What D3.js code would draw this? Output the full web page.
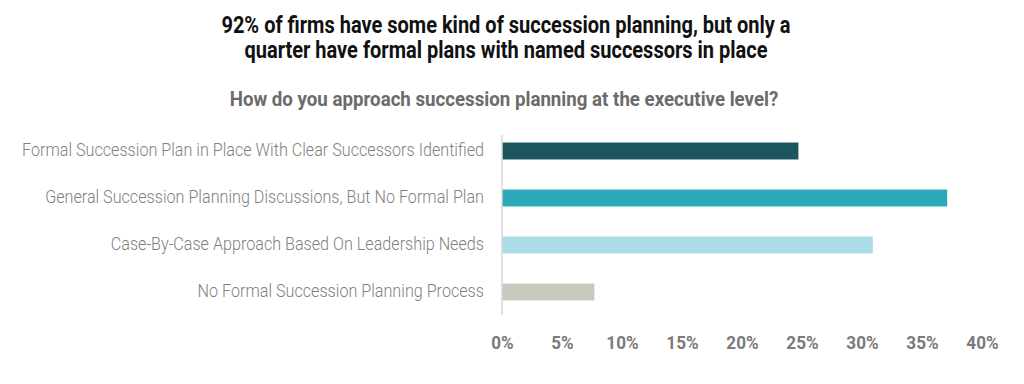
<!DOCTYPE html>
<html>
<head>
<meta charset="utf-8">
<script src="https://cdn.jsdelivr.net/npm/d3@7"></script>
<style>
  html, body { margin: 0; padding: 0; background: #fff; }
  svg { display: block; }
</style>
</head>
<body>
<svg id="chart" width="1024" height="384"></svg>
<script>
var width = 1024;
var height = 384;

var titleLines = [
  "92% of firms have some kind of succession planning, but only a",
  "quarter have formal plans with named successors in place"
];
var subtitle = "How do you approach succession planning at the executive level?";

var categories = [
  "Formal Succession Plan in Place With Clear Successors Identified",
  "General Succession Planning Discussions, But No Formal Plan",
  "Case-By-Case Approach Based On Leadership Needs",
  "No Formal Succession Planning Process"
];
var values = [24.7, 37.1, 30.9, 7.7];
var colors = ["#1b555d", "#2aaab8", "#abdce6", "#c7c9bf"];
var tickValues = [0, 5, 10, 15, 20, 25, 30, 35, 40];

var svg = d3.select("#chart");

var x = d3.scaleLinear()
    .domain([0, 40])
    .range([502, 982]);

var y = d3.scaleBand()
    .domain(categories)
    .range([127.5, 315.5])
    .paddingInner(0.64)
    .paddingOuter(0.32);

// squeeze text horizontally to fake a condensed face
function condense(sel, k) {
  sel.each(function () {
    var w = this.getComputedTextLength();
    d3.select(this)
      .attr("textLength", w * k)
      .attr("lengthAdjust", "spacingAndGlyphs");
  });
}

// title
svg.selectAll("text.title")
  .data(titleLines)
  .enter().append("text")
  .attr("class", "title")
  .attr("x", 506)
  .attr("y", (d, i) => 33 + i * 25)
  .attr("text-anchor", "middle")
  .style("font-family", "Roboto, 'Liberation Sans', sans-serif")
  .style("font-weight", "700")
  .style("font-size", "23px")
  .style("fill", "#111")
  .text(d => d)
  .call(condense, 0.87);

svg.append("text")
  .attr("x", 504)
  .attr("y", 106)
  .attr("text-anchor", "middle")
  .style("font-family", "Roboto, 'Liberation Sans', sans-serif")
  .style("font-weight", "700")
  .style("font-size", "21px")
  .style("fill", "#6b6b6b")
  .text(subtitle)
  .call(condense, 0.89);

// bars
svg.selectAll("rect.bar")
  .data(values)
  .enter().append("rect")
  .attr("class", "bar")
  .attr("x", x(0))
  .attr("y", (d, i) => y(categories[i]))
  .attr("width", d => x(d) - x(0))
  .attr("height", y.bandwidth())
  .style("fill", (d, i) => colors[i]);

// category labels
svg.selectAll("text.cat")
  .data(categories)
  .enter().append("text")
  .attr("class", "cat")
  .attr("x", x(0) - 18)
  .attr("y", d => y(d) + y.bandwidth() / 2 + 5)
  .attr("text-anchor", "end")
  .style("font-family", "Roboto, 'Liberation Sans', sans-serif")
  .style("font-weight", "300")
  .style("font-size", "19px")
  .style("fill", "#7f7f7f")
  .text(d => d)
  .call(condense, 0.85);

// vertical axis line
svg.append("line")
  .attr("x1", x(0)).attr("x2", x(0))
  .attr("y1", 135).attr("y2", 315)
  .style("stroke", "#d9d9d9")
  .style("stroke-width", 1.5);

// x axis labels
var xAxis = d3.axisBottom(x)
  .tickValues(tickValues)
  .tickSize(0)
  .tickPadding(0)
  .tickFormat(d => d + "%");

var gx = svg.append("g")
  .attr("transform", "translate(0,335)")
  .call(xAxis);

gx.select(".domain").remove();
gx.selectAll("text")
  .style("font-family", "Roboto, 'Liberation Sans', sans-serif")
  .style("font-weight", "700")
  .style("font-size", "19px")
  .style("fill", "#7a7a7a")
  .call(condense, 0.9);
</script>
</body>
</html>
